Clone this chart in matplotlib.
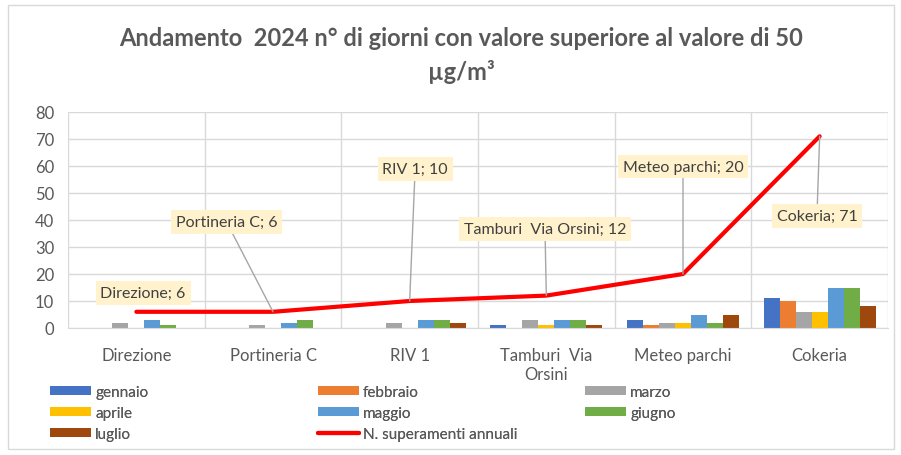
import matplotlib.pyplot as plt
from matplotlib.patches import Rectangle
import numpy as np

plt.rcParams['font.family'] = ['Lato', 'DejaVu Sans']

# Data
categories = ['Direzione', 'Portineria C', 'RIV 1', 'Tamburi  Via\nOrsini', 'Meteo parchi', 'Cokeria']
label_names = ['Direzione', 'Portineria C', 'RIV 1', 'Tamburi  Via Orsini', 'Meteo parchi', 'Cokeria']
months = ['gennaio', 'febbraio', 'marzo', 'aprile', 'maggio', 'giugno', 'luglio']
gennaio = [0, 0, 0, 1, 3, 11]
febbraio = [0, 0, 0, 0, 1, 10]
marzo = [2, 1, 2, 3, 2, 6]
aprile = [0, 0, 0, 1, 2, 6]
maggio = [3, 2, 3, 3, 5, 15]
giugno = [1, 3, 3, 3, 2, 15]
luglio = [0, 0, 2, 1, 5, 8]
totali = [6, 6, 10, 12, 20, 71]

series = [gennaio, febbraio, marzo, aprile, maggio, giugno, luglio]
colors = ['#4472C4', '#ED7D31', '#A5A5A5', '#FFC000', '#5B9BD5', '#70AD47', '#9E480E']
grey = '#595959'

fig = plt.figure(figsize=(9.01, 4.56), dpi=100)
ax = fig.add_axes([68 / 901, 1 - 329 / 456, 820 / 901, 216 / 456])

x = np.arange(len(categories))
bw = 0.117
for k, (vals, c) in enumerate(zip(series, colors)):
    ax.bar(x + (k - 3) * bw, vals, width=bw, color=c, label=months[k], zorder=2)

ax.plot(x, totali, color='#FF0000', linewidth=3, label='N. superamenti annuali',
        solid_capstyle='round', zorder=3)

# data labels (box centres in data coords)
label_pos = [(0.05, 13), (0.66, 39.3), (2.04, 58.9), (2.99, 36.6), (4.0, 59.8), (4.98, 41.5)]
for i, (lx, ly) in enumerate(label_pos):
    arrow = None if i == 0 else dict(arrowstyle='-', color='#A6A6A6', lw=1, shrinkA=0, shrinkB=0)
    ax.annotate(f'{label_names[i]}; {totali[i]}', xy=(x[i], totali[i]), xytext=(lx, ly),
                ha='center', va='center', fontsize=11.5, color='#404040',
                bbox=dict(boxstyle='square,pad=0.3', fc='#FFF2CC', ec='none'),
                arrowprops=arrow, zorder=4)

ax.set_xlim(-0.5, 5.5)
ax.set_ylim(0, 80)
ax.set_yticks(range(0, 81, 10))
ax.set_xticks(x)
ax.set_xticklabels(categories)
ax.set_xticks(np.arange(-0.5, 6, 1), minor=True)
ax.grid(axis='y', color='#D9D9D9', linewidth=1, zorder=0)
ax.grid(axis='x', which='minor', color='#D9D9D9', linewidth=1, zorder=0)
ax.grid(axis='x', which='major', visible=False)
for s in ['top', 'right', 'left']:
    ax.spines[s].set_visible(False)
ax.spines['bottom'].set_color('#D9D9D9')
ax.tick_params(axis='both', which='both', length=0, colors=grey, labelsize=12)
ax.tick_params(axis='x', pad=14)
ax.tick_params(axis='y', pad=10)

fig.text(461 / 901, 1 - 38 / 456, 'Andamento  2024 n° di giorni con valore superiore al valore di 50',
         ha='center', va='center', fontsize=17, fontweight='bold', color=grey)
fig.text(461 / 901, 1 - 72 / 456, 'µg/m³', ha='center', va='center', fontsize=17,
         fontweight='bold', color=grey)

# legend: three columns, filled row by row
handles, labels = ax.get_legend_handles_labels()
handles = handles[1:] + handles[:1]
labels = labels[1:] + labels[:1]
col_x = [50, 318, 585]
for c in range(3):
    idx = list(range(c, len(handles), 3))
    leg = fig.legend([handles[i] for i in idx], [labels[i] for i in idx], loc='upper left',
                     bbox_to_anchor=(col_x[c] / 901, 1 - 386 / 456), frameon=False,
                     fontsize=11, labelcolor=grey, handlelength=2.7, handleheight=0.6,
                     handletextpad=0.25, labelspacing=0.45, borderaxespad=0, borderpad=0)
    fig.add_artist(leg)

fig.patches.append(Rectangle((8 / 901, 6 / 456), 886 / 901, 444 / 456, transform=fig.transFigure,
                             fill=False, edgecolor='#D9D9D9', linewidth=1))

plt.savefig('out.png', dpi=100)
